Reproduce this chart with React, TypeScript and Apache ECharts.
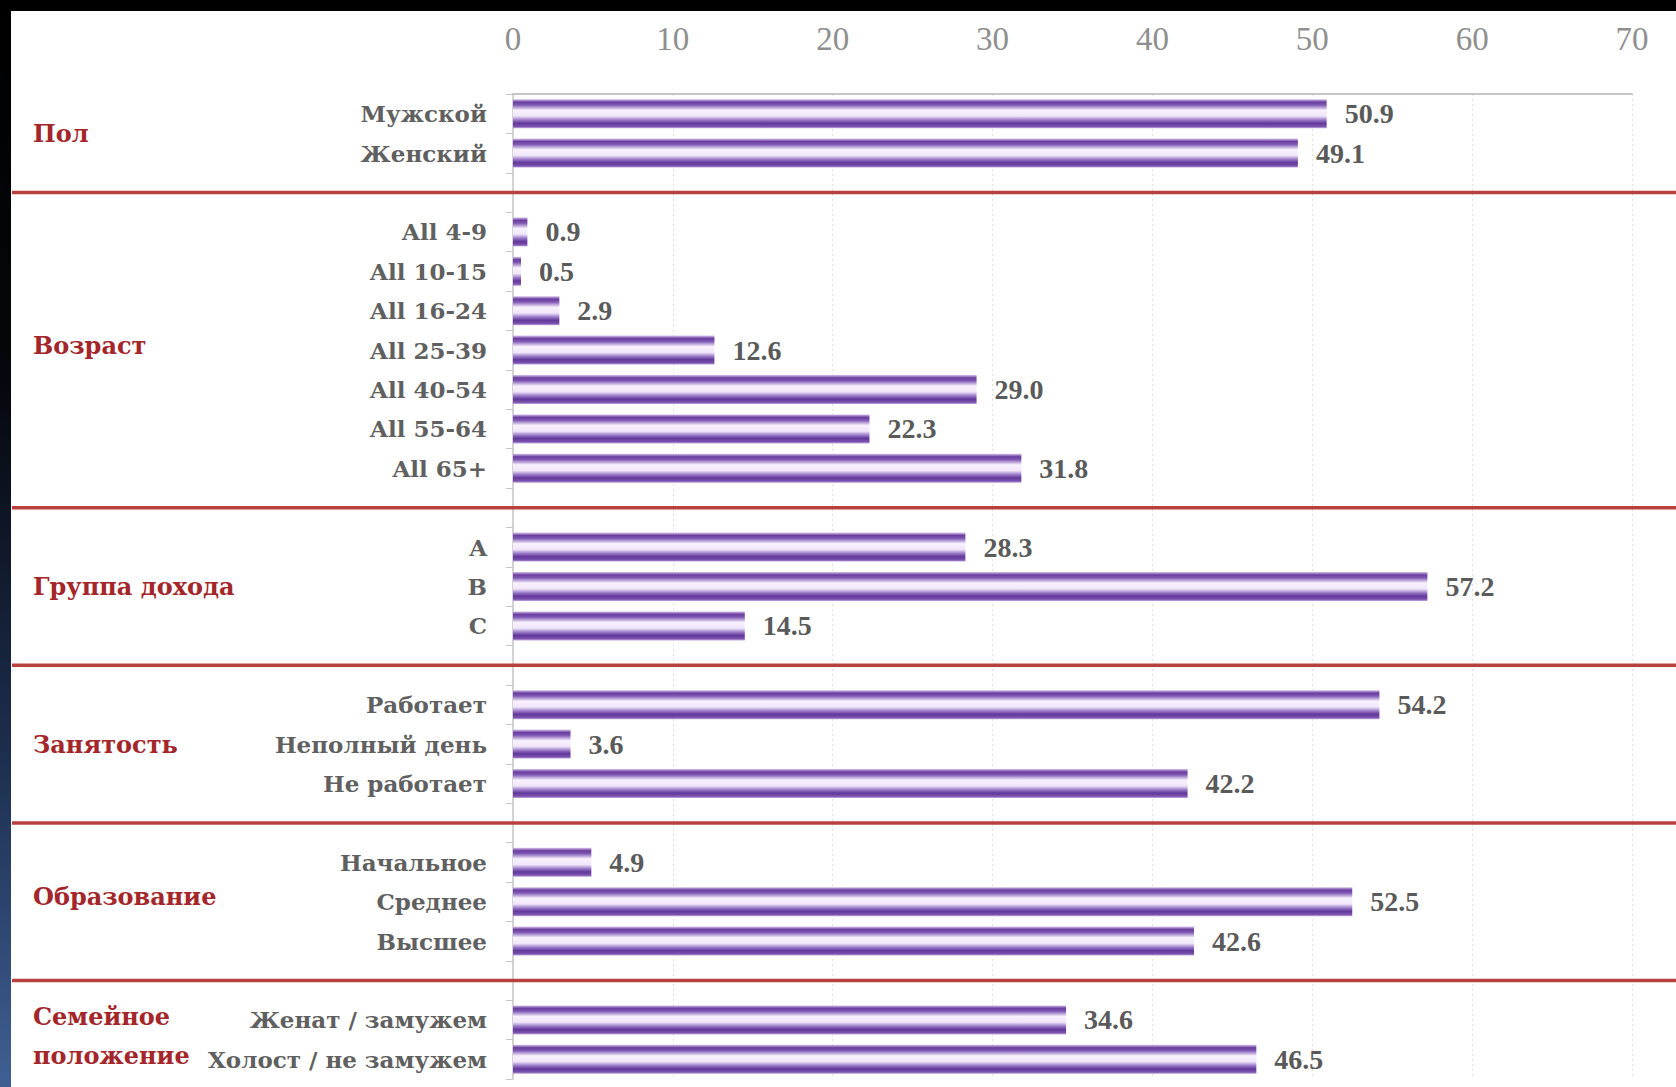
import React, { useEffect, useRef } from 'react';
import * as echarts from 'echarts';

// ---- data ----
const groupNames = ['Пол', 'Возраст', 'Группа дохода', 'Занятость', 'Образование', 'Семейное\nположение'];
const sexCategories = ['Мужской', 'Женский'];
const sexValues = [50.9, 49.1];
const ageCategories = ['All 4-9', 'All 10-15', 'All 16-24', 'All 25-39', 'All 40-54', 'All 55-64', 'All 65+'];
const ageValues = [0.9, 0.5, 2.9, 12.6, 29.0, 22.3, 31.8];
const incomeCategories = ['A', 'B', 'C'];
const incomeValues = [28.3, 57.2, 14.5];
const employmentCategories = ['Работает', 'Неполный день', 'Не работает'];
const employmentValues = [54.2, 3.6, 42.2];
const educationCategories = ['Начальное', 'Среднее', 'Высшее'];
const educationValues = [4.9, 52.5, 42.6];
const maritalCategories = ['Женат / замужем', 'Холост / не замужем'];
const maritalValues = [34.6, 46.5];
const xTicks = { min: 0, max: 70, interval: 10 };

const groupCats = [sexCategories, ageCategories, incomeCategories, employmentCategories, educationCategories, maritalCategories];
const groupVals = [sexValues, ageValues, incomeValues, employmentValues, educationValues, maritalValues];

export default function App() {
  const ref = useRef<HTMLDivElement>(null);
  useEffect(() => {
    document.body.style.margin = '0';
    if (!ref.current) return;
    const chart = echarts.init(ref.current, undefined, { renderer: 'svg' });

    const categories: string[] = [];
    const values: (number | null)[] = [];
    const gapIdx: number[] = [];
    const groupRange: [number, number][] = [];
    groupCats.forEach((cats, gi) => {
      if (gi > 0) {
        gapIdx.push(categories.length);
        categories.push('');
        values.push(null);
      }
      const start = categories.length;
      cats.forEach((c, i) => {
        categories.push(c);
        values.push(groupVals[gi][i]);
      });
      groupRange.push([start, categories.length - 1]);
    });

    const barGradient = new echarts.graphic.LinearGradient(0, 0, 0, 1, [
      { offset: 0, color: '#d6c3ec' },
      { offset: 0.1, color: '#6a3d9e' },
      { offset: 0.2, color: '#7f58b4' },
      { offset: 0.38, color: '#f8f1fd' },
      { offset: 0.58, color: '#f1e6fa' },
      { offset: 0.72, color: '#9777c6' },
      { offset: 0.83, color: '#62379a' },
      { offset: 0.94, color: '#7a52ae' },
      { offset: 1, color: '#c4a9e2' },
    ]);

    chart.setOption({
      animation: false,
      backgroundColor: '#ffffff',
      grid: { left: 513, right: 44, top: 94, bottom: 8, containLabel: false },
      xAxis: {
        type: 'value',
        position: 'top',
        min: xTicks.min,
        max: xTicks.max,
        interval: xTicks.interval,
        axisLine: { show: true, lineStyle: { color: '#c6c6c6', width: 2 } },
        axisTick: { show: false },
        axisLabel: { fontFamily: 'Liberation Serif', fontSize: 33, color: '#8f8f8f', margin: 39 },
        splitLine: { show: true, lineStyle: { color: '#e0e0e0', type: [2, 3], width: 1 } },
      },
      yAxis: {
        type: 'category',
        inverse: true,
        data: categories,
        axisLine: { show: true, lineStyle: { color: '#c6c6c6', width: 1.5 } },
        axisTick: { show: true, length: 7, lineStyle: { color: '#c6c6c6' } },
        axisLabel: { fontFamily: 'DejaVu Serif', fontWeight: 'bold', fontSize: 23, color: '#606060', margin: 26 },
        splitLine: { show: false },
      },
      series: [
        {
          type: 'bar',
          data: values,
          barWidth: 29,
          itemStyle: { color: barGradient },
          label: {
            show: true,
            position: 'right',
            distance: 18,
            formatter: (p: any) => (p.value == null ? '' : Number(p.value).toFixed(1)),
            fontFamily: 'Liberation Serif',
            fontWeight: 'bold',
            fontSize: 28,
            color: '#5a5a5a',
          },
        },
      ],
    });

    const W = 1676;
    const H = 1087;
    const graphics: any[] = [];
    gapIdx.forEach((gi) => {
      const y = chart.convertToPixel({ yAxisIndex: 0 }, gi) as number;
      graphics.push({
        type: 'line',
        shape: { x1: 12, y1: y, x2: W, y2: y },
        style: { stroke: '#b8403e', lineWidth: 3.5 },
        z: 10,
      });
    });
    groupNames.forEach((name, gi) => {
      const [a, b] = groupRange[gi];
      const ya = chart.convertToPixel({ yAxisIndex: 0 }, a) as number;
      const yb = chart.convertToPixel({ yAxisIndex: 0 }, b) as number;
      const multi = name.includes('\n');
      const shift = gi === 1 || gi === 4 ? -5 : multi ? -4 : 0;
      graphics.push({
        type: 'text',
        x: 33,
        y: (ya + yb) / 2 + shift,
        style: {
          text: name,
          fontFamily: 'DejaVu Serif',
          fontWeight: 'bold',
          fontSize: 24,
          fill: '#a3262a',
          verticalAlign: 'middle',
          align: 'left',
          lineHeight: 39,
        },
        z: 10,
      });
    });
    // frame
    graphics.push({
      type: 'rect',
      shape: { x: 0, y: 0, width: 11, height: H },
      style: {
        fill: new echarts.graphic.LinearGradient(0, 0, 0, 1, [
          { offset: 0, color: '#000000' },
          { offset: 0.35, color: '#05070c' },
          { offset: 0.7, color: '#1d2f4f' },
          { offset: 1, color: '#3f5f93' },
        ]),
      },
      z: 20,
    });
    graphics.push({
      type: 'rect',
      shape: { x: 0, y: 0, width: W, height: 11 },
      style: { fill: '#000000' },
      z: 20,
    });
    chart.setOption({ graphic: graphics });

    return () => chart.dispose();
  }, []);
  return <div ref={ref} style={{ width: 1676, height: 1087 }} />;
}
